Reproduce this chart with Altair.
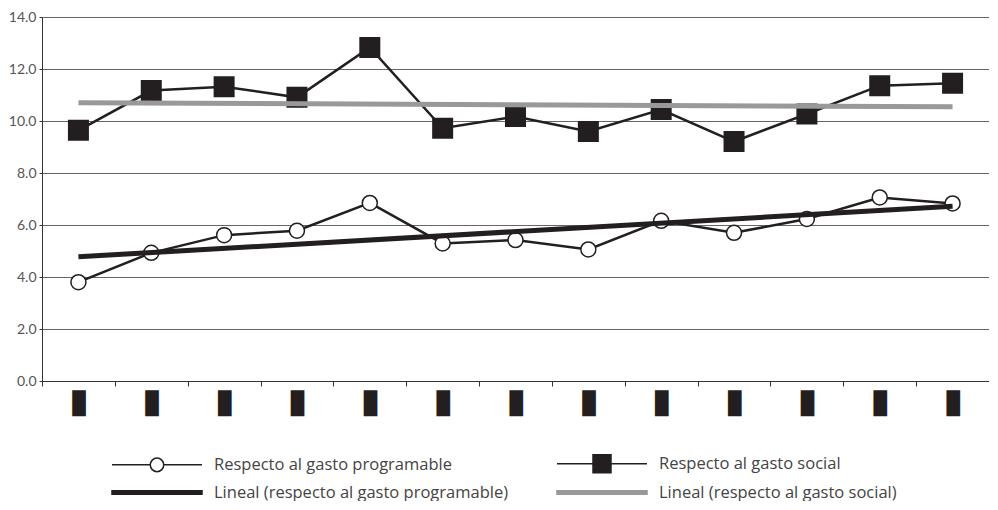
import altair as alt
import pandas as pd

# ---- data ----
periods = list(range(13))
tick_labels = ["█"] * 13
social = [9.64, 11.17, 11.32, 10.91, 12.83, 9.72, 10.17, 9.60, 10.44, 9.21, 10.27, 11.36, 11.45]
prog = [3.80, 4.93, 5.61, 5.78, 6.85, 5.29, 5.42, 5.06, 6.16, 5.70, 6.23, 7.06, 6.83]
y_ticks = [0, 2, 4, 6, 8, 10, 12, 14]

S_PROG = "Respecto al gasto programable"
S_SOC = "Respecto al gasto social"
L_PROG = "Lineal (respecto al gasto programable)"
L_SOC = "Lineal (respecto al gasto social)"
legend_labels = [S_PROG, S_SOC, L_PROG, L_SOC]

rows = []
for i, v in zip(periods, prog):
    rows.append({"idx": i, "value": v, "series": S_PROG})
for i, v in zip(periods, social):
    rows.append({"idx": i, "value": v, "series": S_SOC})
df = pd.DataFrame(rows)
legend_df = pd.DataFrame({"entry": legend_labels})

W = 947
H = 364
bw = W / 13.0
INK = "#231f20"
GRAY_TREND = "#999999"

label_arr = "[" + ",".join("'%s'" % t for t in tick_labels) + "]"

xscale = alt.Scale(domain=[-0.5, 12.5], nice=False, zero=False)
yscale = alt.Scale(domain=[0, 14], nice=False, zero=True)

xaxis = alt.Axis(
    values=[-0.5 + i for i in range(13)],
    grid=False, tickSize=5, tickColor="#333", domainColor="#333",
    labelExpr=label_arr + "[datum.value + 0.5]",
    labelOffset=bw / 2, labelFont="DejaVu Sans Mono", labelFontSize=22,
    labelColor=INK, labelPadding=7, labelAngle=0, labelFlush=False,
    labelOverlap=False, title=None,
)
yaxis = alt.Axis(
    values=y_ticks, format=".1f", grid=True, gridColor="#666", gridWidth=1,
    tickSize=3, tickColor="#333", domainColor="#333", labelFont="Lato",
    labelFontSize=14, labelColor="#555", labelPadding=3, title=None,
)

base = alt.Chart(df).encode(
    x=alt.X("idx:Q", scale=xscale, axis=xaxis),
    y=alt.Y("value:Q", scale=yscale, axis=yaxis),
)

line_soc = base.transform_filter(alt.datum.series == S_SOC).mark_line(color=INK, strokeWidth=2.5)
line_prog = base.transform_filter(alt.datum.series == S_PROG).mark_line(color=INK, strokeWidth=2.5)
pts_soc = base.transform_filter(alt.datum.series == S_SOC).mark_point(
    shape="square", filled=True, fill=INK, stroke=INK, size=361, opacity=1)
pts_prog = base.transform_filter(alt.datum.series == S_PROG).mark_point(
    shape="circle", filled=True, fill="white", stroke=INK, strokeWidth=1.5, size=225, opacity=1)
trend_soc = base.transform_filter(alt.datum.series == S_SOC).transform_regression(
    "idx", "value").mark_line(color=GRAY_TREND, strokeWidth=5)
trend_prog = base.transform_filter(alt.datum.series == S_PROG).transform_regression(
    "idx", "value").mark_line(color=INK, strokeWidth=5)

# legend symbols: 17px symbol box (8.5 px per unit), drawn 90px wide
U = 8.5
C0 = 9.5  # symbol centre inside the entry
def ux(px):
    return (px - C0) / U
L, R, M = ux(0), ux(90), ux(45)
rc = 6.75 / U
hs = 9.0 / U
hb = 1.75 / U
paths = [
    f"M{L:.3f},0H{M-rc:.3f}M{M+rc:.3f},0H{R:.3f}M{M-rc:.3f},0A{rc:.3f},{rc:.3f} 0 1,1 {M+rc:.3f},0A{rc:.3f},{rc:.3f} 0 1,1 {M-rc:.3f},0Z",
    f"M{L:.3f},0H{R:.3f}M{M-hs:.3f},{-hs:.3f}H{M+hs:.3f}V{hs:.3f}H{M-hs:.3f}Z",
    f"M{L:.3f},{-hb:.3f}H{R:.3f}V{hb:.3f}H{L:.3f}Z",
    f"M{L:.3f},{-hb:.3f}H{R:.3f}V{hb:.3f}H{L:.3f}Z",
]

legend_layer = alt.Chart(legend_df).transform_filter("false").mark_point(opacity=1).encode(
    shape=alt.Shape("entry:N", scale=alt.Scale(domain=legend_labels, range=paths),
                    legend=alt.Legend(
                        title=None, orient="none", legendX=70, legendY=437,
                        direction="horizontal",
                        columns=2, columnPadding=44, rowPadding=7,
                        symbolSize=289, labelFont="Open Sans", labelFontSize=16.5,
                        labelColor="#444", labelOffset=83, labelLimit=400,
                        padding=0, symbolOpacity=1)),
    fill=alt.Fill("entry:N", scale=alt.Scale(domain=legend_labels,
                                             range=["white", INK, INK, GRAY_TREND])),
    stroke=alt.Stroke("entry:N", scale=alt.Scale(domain=legend_labels,
                                                 range=[INK, INK, INK, GRAY_TREND])),
)

chart = alt.layer(
    line_soc, line_prog, pts_soc, pts_prog, trend_soc, trend_prog, legend_layer
).properties(
    width=W, height=H, padding={"left": 0, "top": 2, "right": 0, "bottom": 0}
).configure_view(stroke="#777", strokeWidth=1).configure(background="white")

chart.save("out.html", embed_options={"renderer": "svg", "actions": False})
